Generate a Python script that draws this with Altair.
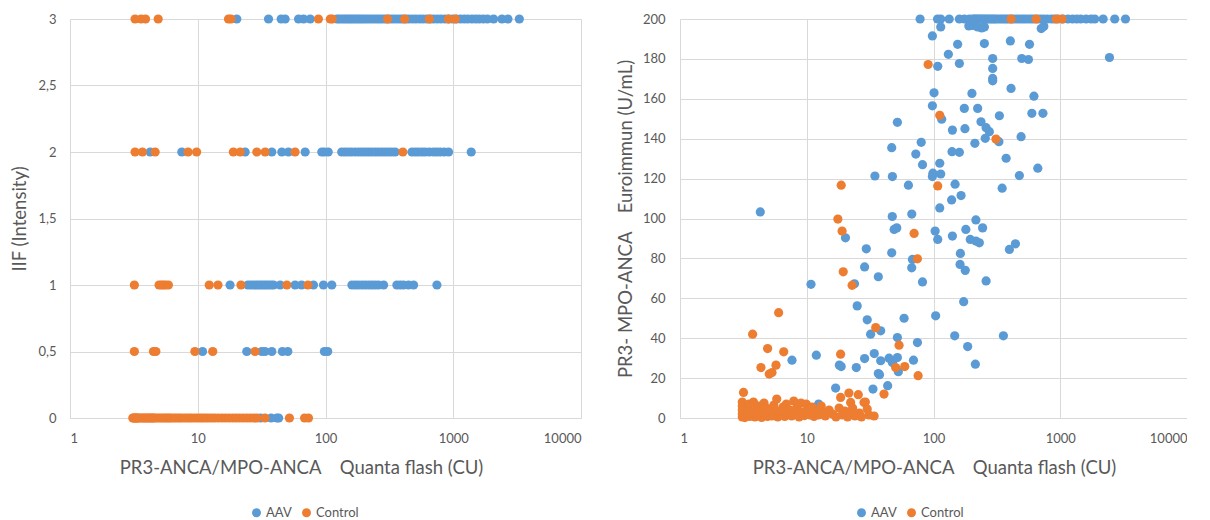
import altair as alt
import pandas as pd

BLUE = "#5B9BD5"
ORANGE = "#ED7D31"
GREY = "#595959"
FONT = "Lato"

# ---------------- Left panel: IIF intensity vs Quanta flash ----------------
iif_levels = [3, 2, 1, 0.5, 0]

aav_iif3 = [20.2, 35.8, 45, 48.3, 61.5, 67.3, 75.9, 123, 128, 134, 140, 146, 152, 158, 165,
            172, 180, 188, 196, 205, 215, 226, 238, 250, 262, 275, 290, 305, 322, 340, 360,
            380, 400, 425, 450, 480, 510, 545, 580, 620, 660, 700, 750, 800, 860, 920, 990,
            1060, 1140, 1220, 1300, 1400, 1500, 1600, 1720, 1850, 2070, 2405, 2680, 3290]
ctl_iif3 = [3.23, 3.6, 3.9, 4.9, 17.4, 18.2, 88, 109, 113, 306, 416, 649, 918, 1037]

aav_iif2 = [4.24, 7.5, 23.5, 38, 45.5, 51.3, 69.3, 93.5, 98, 105, 134, 142, 151, 160, 171,
            182, 193, 205, 217, 230, 245, 260, 276, 293, 311, 330, 351, 475, 505, 535, 570,
            604, 650, 702, 745, 791, 850, 919, 1383]
ctl_iif2 = [3.23, 3.69, 4.64, 8.4, 9.8, 19, 21.5, 29, 33.7, 57.8, 403]

aav_iif1 = [17.9, 24.7, 26, 27.3, 28.6, 29.9, 31.3, 32.7, 34.2, 35.8, 37.5, 39.2, 44.2, 57.8,
            65, 80.5, 96.4, 112, 161, 171, 181, 193, 205, 218, 231, 245, 260, 285, 362, 385,
            408, 447, 489, 745]
ctl_iif1 = [3.19, 4.98, 5.2, 5.38, 5.6, 5.89, 12.3, 14.4, 21.8, 49.8, 72.8]

aav_iif05 = [10.9, 24.2, 31.7, 33.6, 38, 46, 50.7, 98, 104]
ctl_iif05 = [3.19, 4.5, 4.7, 9.5, 13.1, 28.1]

aav_iif0 = [31, 37.5, 41.6, 43]
ctl_iif0 = [3.1, 3.15, 3.2, 3.25, 3.3, 3.35, 3.4, 3.5, 3.6, 3.7, 3.8, 3.9, 4.0, 4.1, 4.2,
            4.3, 4.4, 4.5, 4.6, 4.8, 5.0, 5.2, 5.4, 5.6, 5.8, 6.0, 6.2, 6.5, 6.8, 7.1, 7.4,
            7.8, 8.2, 8.6, 9.0, 9.5, 10.0, 10.5, 11.0, 11.6, 12.2, 12.9, 13.6, 14.5, 15.5,
            16.5, 17.6, 18.8, 20, 21.3, 22.7, 24.2, 25.8, 27.5, 29, 33.6, 52.2, 68.6, 73.6]

# ---------------- Right panel: Euroimmun vs Quanta flash ----------------
aav_qf = [78.4, 107.6, 114, 133, 160, 175, 192, 204, 210, 216, 222, 228, 235, 242, 250, 258,
          266, 275, 285, 295, 305, 316, 331, 345, 360, 375, 390, 410, 430, 455, 480, 505, 530,
          560, 590, 620, 660, 700, 740, 790, 850, 900, 960, 1050, 1150, 1250, 1350, 1450, 1600,
          1750, 1870, 2180, 2690, 3270,
          114, 204, 223, 252, 708, 742, 190, 240,
          98, 155, 131, 160, 108, 252, 293, 293, 293, 293, 101, 201, 98, 175, 223, 116, 331,
          51.9, 237, 141, 177, 260, 276, 256, 212, 80, 46.8, 72.5, 140, 160, 81.9, 112, 34.5,
          47.4, 98, 99, 114, 63.4, 148, 165, 139, 112, 4.3, 47.3, 67.4, 216,
          404, 572, 497, 561, 2445, 409, 620, 597, 730, 328, 491, 374, 665, 476, 348,
          103, 108, 141, 180, 195, 216, 230, 244, 48.9, 51.3, 46.8, 20.2, 29.5, 68.2, 67.3,
          28.6, 36.7, 163, 162, 178, 81.9, 260, 10.8, 23.8, 25, 173, 30, 58.6, 104, 31.9,
          38.3, 51.9, 74.7, 147, 186, 214, 7.65, 11.9, 18.1, 18.7, 24.6, 28.6, 34.1, 38.3,
          36.7, 37.5, 44.6, 47.4, 51.9, 52.8, 69.5, 43.5, 33.3, 16.9, 12.4,
          397, 443, 356]
aav_eu = [200, 200, 200, 200, 200, 200, 200, 200, 200, 200, 200, 200, 200, 200, 200, 200,
          200, 200, 200, 200, 200, 200, 200, 200, 200, 200, 200, 200, 200, 200, 200, 200, 200,
          200, 200, 200, 200, 200, 200, 200, 200, 200, 200, 200, 200, 200, 200, 200, 200,
          200, 200, 200, 200, 200,
          196, 196.8, 196, 196, 195.2, 196.3, 196.5, 195.5,
          191.5, 187.3, 182.3, 177.7, 176.3, 187.7, 180.2, 175.2, 170.2, 169, 163, 162.7,
          156.5, 155.2, 155.2, 149.8, 151.5, 148.2, 148.5, 144.3, 145, 145.5, 143.5, 140.2,
          137.7, 138.2, 135.5, 132.3, 133.5, 133.2, 127, 127.7, 121.3, 121, 121, 122.7,
          122.3, 116.7, 117.2, 111.5, 109.3, 105.3, 103.3, 101, 102.2, 99.3,
          189, 187.3, 180.2, 179.7, 180.7, 165.2, 161.3, 152.7, 152.7, 138.5, 141, 130.2,
          125.2, 121.5, 115.2,
          93.7, 89.5, 91.2, 94.5, 89.5, 88.7, 87.8, 95.3, 94.5, 95.3, 82.8, 90.3, 84.8, 79.5,
          75.3, 75.7, 70.8, 82.5, 77, 74, 68.2, 68.7, 67, 67.3, 56.2, 58.3, 49.2, 50, 51.2,
          42, 43.7, 40.3, 37.8, 41.2, 35.8, 27, 29, 31.5, 26.5, 25.8, 25.3, 29.8, 32.3, 28.7,
          22.3, 21.7, 30, 27.8, 30.3, 23.2, 29, 16.2, 14.5, 15, 7,
          84.5, 87.3, 41.2]

ctl_qf = [90.7, 112, 108, 18.7, 17.6, 311, 19, 19.4, 22.8, 70.3, 74.7, 6.0, 3.74, 4.91, 6.58,
          4.35, 5.06, 5.32, 5.72, 35, 18.5, 53.5, 50.3, 59.3, 75.6, 40.7, 18.5, 21.5, 25.5,
          22.2, 28.3, 3.17, 409, 646, 930, 1031,
          3.1, 3.1, 3.1, 3.1, 3.1, 3.15, 3.2, 3.25, 3.3, 3.4, 3.5, 3.55, 3.6, 3.7, 3.8, 3.9,
          4.0, 4.1, 4.2, 4.3, 4.4, 4.5, 4.6, 4.7, 4.8, 4.9, 5.0, 5.2, 5.3, 5.5, 5.6, 5.8, 5.9,
          6.1, 6.3, 6.5, 6.7, 6.9, 7.1, 7.4, 7.6, 7.9, 8.1, 8.4, 8.7, 9.0, 9.3, 9.6, 9.9, 10.3,
          10.6, 11.0, 11.4, 11.8, 12.4, 13, 13.5, 14, 15, 16, 17, 18, 19, 20, 21, 22, 23, 24,
          26, 27, 29, 30, 31, 34]
ctl_eu = [177.2, 151.7, 116.3, 116.7, 99.7, 139.8, 93.7, 73.3, 66.5, 92.5, 79.8, 52.8, 42,
          34.8, 33.2, 25.3, 22, 22.8, 26.5, 45.3, 32, 36.5, 25.3, 25.8, 21.2, 12, 10.3, 12.5,
          11.7, 7.8, 7.8, 12.8, 200, 200, 200, 200,
          0.5, 2, 4, 6, 8, 1, 3, 0.2, 5, 1.5, 7, 0.8, 3.5, 2, 8, 0.5, 4.5, 1.2, 6, 2.5, 0.3,
          3.8, 7.5, 1.5, 5, 0.8, 2.8, 4.2, 1, 6.5, 2, 9.5, 0.5, 3.5, 1.5, 5.5, 0.8, 7, 2.5, 4,
          1, 8.5, 2, 5.5, 0.5, 7.5, 3, 1.2, 7, 4, 1.5, 5.5, 0.8, 3, 1.5, 6, 3, 1, 4, 2, 0.5,
          5, 1.5, 3.5, 0.5, 2, 5, 1, 2.5, 0.5, 8, 4.5, 1.5, 1]

# ---------------- tables ----------------
left_rows = []
for lvl, xs in zip(iif_levels, [aav_iif3, aav_iif2, aav_iif1, aav_iif05, aav_iif0]):
    left_rows += [{"qf": v, "iif": lvl, "group": "AAV"} for v in xs]
for lvl, xs in zip(iif_levels, [ctl_iif3, ctl_iif2, ctl_iif1, ctl_iif05, ctl_iif0]):
    left_rows += [{"qf": v, "iif": lvl, "group": "Control"} for v in xs]
left_df = pd.DataFrame(left_rows)

right_df = pd.DataFrame(
    [{"qf": a, "eu": b, "group": "AAV"} for a, b in zip(aav_qf, aav_eu)]
    + [{"qf": a, "eu": b, "group": "Control"} for a, b in zip(ctl_qf, ctl_eu)]
)

NB = "\u00a0"
x_title = "PR3-ANCA/MPO-ANCA" + NB * 4 + "Quanta flash (CU)"
y2_title = "PR3-" + NB + "MPO-ANCA" + NB * 4 + "Euroimmun (U/mL)"

color_scale = alt.Scale(domain=["AAV", "Control"], range=[BLUE, ORANGE])
PH = 399


def x_enc(title_x):
    return alt.X(
        "qf:Q",
        scale=alt.Scale(type="log", domain=[1, 10000], nice=False),
        axis=alt.Axis(values=[1, 10, 100, 1000, 10000], format="d", title=x_title,
                      titleX=title_x, titleY=55, titleBaseline="alphabetic",
                      labelPadding=14, domain=True, domainColor="#D9D9D9"),
    )


def legend(lx):
    return alt.Legend(orient="none", legendX=lx, legendY=487, direction="horizontal",
                      title=None, symbolType="circle", symbolSize=80,
                      labelFontSize=13, labelColor=GREY, labelFont=FONT,
                      columnPadding=8, labelOffset=3, symbolStrokeWidth=0)


left = alt.Chart(left_df).mark_circle(size=85, opacity=1).encode(
    x=x_enc(231),
    y=alt.Y("iif:Q", scale=alt.Scale(domain=[0, 3], nice=False),
            axis=alt.Axis(values=[0, 0.5, 1, 1.5, 2, 2.5, 3],
                          labelExpr="replace(toString(datum.value), '.', ',')",
                          title="IIF (Intensity)", titleX=-45, titleY=PH / 2,
                          titleBaseline="alphabetic", labelPadding=14, domain=False)),
    color=alt.Color("group:N", scale=color_scale, legend=legend(180)),
    order=alt.Order("group:N"),
).properties(width=511, height=PH)

right = alt.Chart(right_df).mark_circle(size=85, opacity=1).encode(
    x=x_enc(254),
    y=alt.Y("eu:Q", scale=alt.Scale(domain=[0, 200], nice=False),
            axis=alt.Axis(values=list(range(0, 201, 20)), title=y2_title,
                          titleX=-49, titleY=PH / 2, titleBaseline="alphabetic",
                          labelPadding=15, domain=False)),
    color=alt.Color("group:N", scale=color_scale, legend=legend(175)),
    order=alt.Order("group:N"),
).properties(width=507, height=PH)

chart = alt.hconcat(left, right, spacing=99, bounds="flush").resolve_scale(
    color="independent"
).properties(
    padding={"left": 2, "top": 5, "right": 0, "bottom": 0}
).configure_view(stroke=None).configure_axis(
    grid=True, gridColor="#D9D9D9", gridWidth=1, ticks=False,
    labelColor=GREY, titleColor=GREY, labelFont=FONT, titleFont=FONT,
    labelFontSize=13, titleFontSize=18.5, titleFontWeight="normal",
)

chart.save("out.html", embed_options={"renderer": "svg", "actions": False})
